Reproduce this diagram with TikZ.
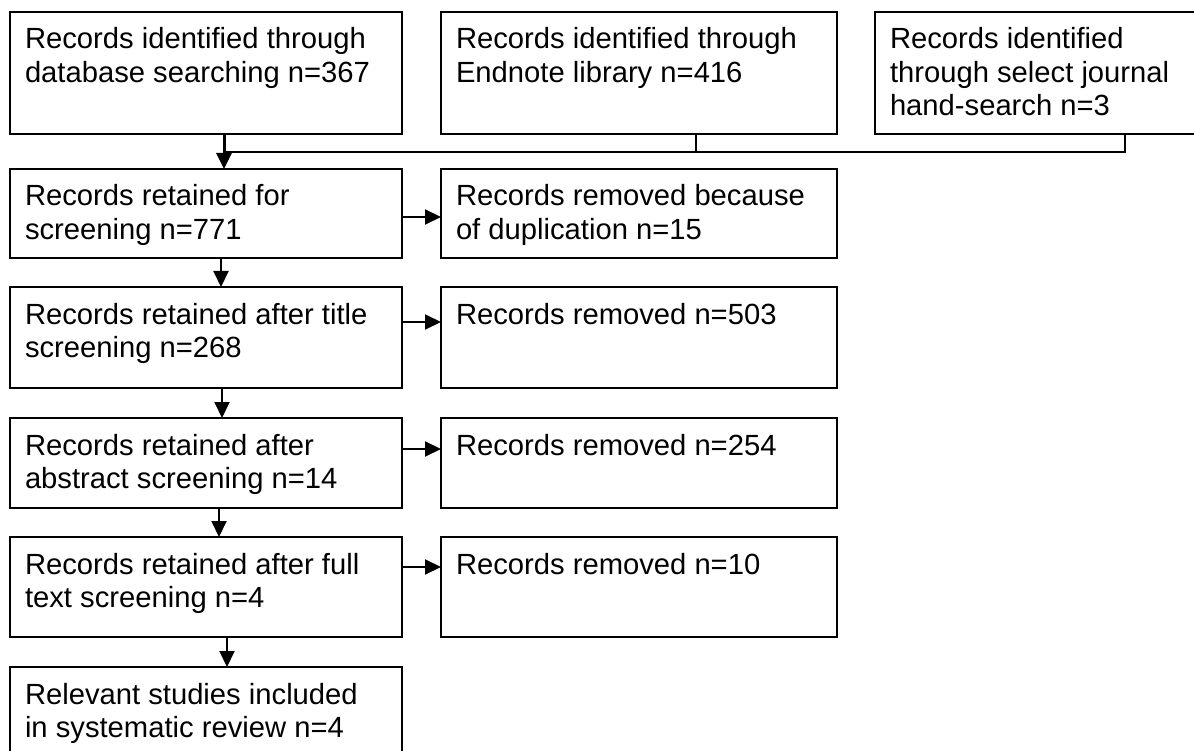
\documentclass[tikz,border=0pt]{standalone}
\usepackage{fontspec}
\setmainfont{Liberation Sans}
\usetikzlibrary{arrows.meta}
\newcommand\bxt[3]{\begin{minipage}[t][#2][t]{#1}\fontsize{29.2}{33.5}\selectfont\leftskip=15pt\rule{0pt}{37pt}#3\end{minipage}}
\tikzset{
  box/.style={draw, line width=2.4pt, anchor=north west, inner sep=0pt, outer sep=0pt},
  conn/.style={line width=2pt},
  arr/.style={line width=2pt, -{Triangle[length=16pt,width=15pt]}}
}
\begin{document}
\begin{tikzpicture}[x=1pt,y=-1pt]
\useasboundingbox (0,0) rectangle (1194,751);
\fill[white] (0,0) rectangle (1194,751);
\clip (0,0) rectangle (1194,751);
\node[box] (b1) at (10,12) {\bxt{392pt}{122pt}{Records identified through\\database searching n=367}};
\node[box] (b2) at (441,12) {\bxt{396pt}{122pt}{Records identified through\\Endnote library n=416}};
\node[box] (b3) at (875,12) {\bxt{340pt}{122pt}{Records identified\\through select journal\\hand-search n=3}};
\node[box] (b4) at (10,169) {\bxt{392pt}{89pt}{Records retained for\\screening n=771}};
\node[box] (b5) at (441,169) {\bxt{396pt}{89pt}{Records removed because\\of duplication n=15}};
\node[box] (b6) at (10,287) {\bxt{392pt}{101pt}{Records retained after title\\screening n=268}};
\node[box] (b7) at (441,287) {\bxt{396pt}{101pt}{Records removed n=503}};
\node[box] (b8) at (10,418) {\bxt{392pt}{90pt}{Records retained after\\abstract screening n=14}};
\node[box] (b9) at (441,418) {\bxt{396pt}{90pt}{Records removed n=254}};
\node[box] (b10) at (10,537) {\bxt{392pt}{100pt}{Records retained after full\\text screening n=4}};
\node[box] (b11) at (441,537) {\bxt{396pt}{100pt}{Records removed n=10}};
\node[box] (b12) at (10,667) {\bxt{392pt}{110pt}{Relevant studies included\\in systematic review n=4}};
\coordinate (j1) at (224,152);
\draw[conn] ([xshift=80pt]b3.south) |- (j1);
\draw[conn] ([xshift=57pt]b2.south) -- ([xshift=57pt]b2.south |- j1);
\draw[arr, line width=3pt] ([xshift=18pt]b1.south) -- ([xshift=18pt]b4.north);
\draw[arr] ([xshift=15pt]b4.south) -- ([xshift=15pt]b6.north);
\draw[arr] ([xshift=16pt]b6.south) -- ([xshift=16pt]b8.north);
\draw[arr] ([xshift=13pt]b8.south) -- ([xshift=13pt]b10.north);
\draw[arr] ([xshift=21pt]b10.south) -- ([xshift=21pt]b12.north);
\draw[arr] ([yshift=-3.5pt]b4.east) -- ([yshift=-3.5pt]b5.west);
\draw[arr] ([yshift=15.5pt]b6.east) -- ([yshift=15.5pt]b7.west);
\draw[arr] ([yshift=14pt]b8.east) -- ([yshift=14pt]b9.west);
\draw[arr] ([yshift=20pt]b10.east) -- ([yshift=20pt]b11.west);
\end{tikzpicture}
\end{document}
